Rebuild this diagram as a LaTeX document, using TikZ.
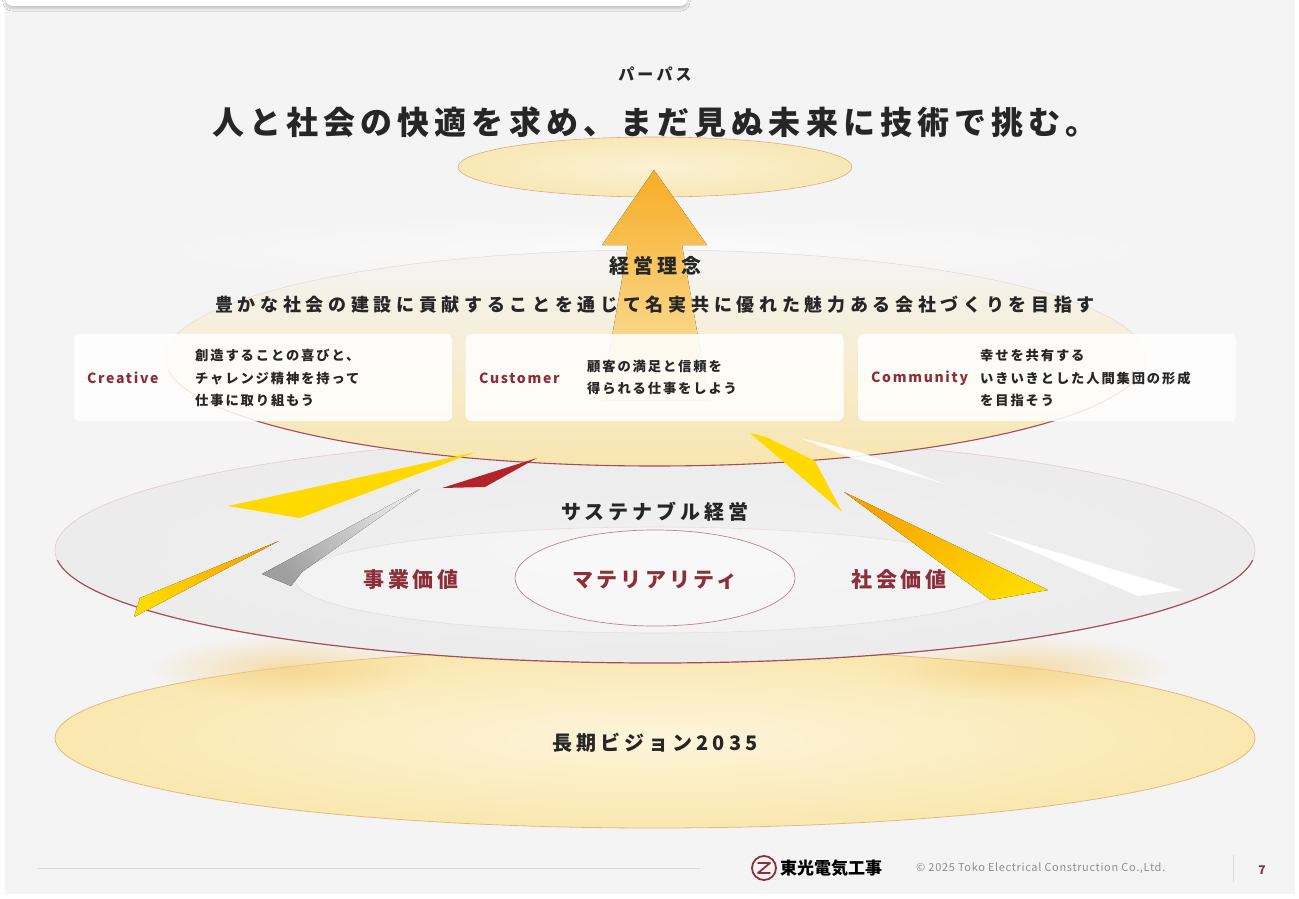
\documentclass[tikz,border=0pt]{standalone}
\usepackage{fontspec}
\setmainfont{Noto Sans CJK JP}
\usetikzlibrary{fadings,shadows.blur}

% palette
\definecolor{pagebg}{HTML}{F4F4F4}
\definecolor{ink}{HTML}{262626}
\definecolor{wine}{HTML}{8C2F3A}
\definecolor{rim}{HTML}{A64E58}
\definecolor{rimsoft}{HTML}{E6CBCB}
\definecolor{visA}{HTML}{FDF4DA}
\definecolor{visB}{HTML}{FAE7AE}
\definecolor{visC}{HTML}{F4D487}
\definecolor{susA}{HTML}{F1F1F1}
\definecolor{susB}{HTML}{EAEAEA}
\definecolor{susC}{HTML}{E1E1E1}
\definecolor{purA}{HTML}{FBF1D4}
\definecolor{purB}{HTML}{F8E6B0}
\definecolor{purC}{HTML}{F2D68C}
\definecolor{arrowTop}{HTML}{F7AD25}
\definecolor{arrowMid}{HTML}{F9C653}
\definecolor{arrowBot}{HTML}{FCE6AE}
\definecolor{gold}{HTML}{FFD900}
\definecolor{amber}{HTML}{F6A300}
\definecolor{crimson}{HTML}{B3232A}
\definecolor{glowC}{HTML}{F5CF80}
\definecolor{footgray}{HTML}{8E8E8E}
\definecolor{hairline}{HTML}{DCDCDC}

% disc shadings
\pgfdeclareradialshading{visdisc}{\pgfpoint{0bp}{0bp}}{color(0bp)=(visA); color(26bp)=(visB); color(50bp)=(visC)}
\pgfdeclareradialshading{susdisc}{\pgfpoint{0bp}{0bp}}{color(0bp)=(susA); color(32bp)=(susB); color(50bp)=(susC)}
\pgfdeclareradialshading{purdisc}{\pgfpoint{0bp}{0bp}}{color(0bp)=(purA); color(30bp)=(purB); color(50bp)=(purC)}

\tikzfading[name=softglow, inner color=transparent!0, outer color=transparent!100]

\newcommand\trk[1]{\addfontfeature{LetterSpace=#1}}

\begin{document}
\begin{tikzpicture}[x=1pt,y=-1pt,
  every node/.style={inner sep=0pt},
  headline/.style={font=\bfseries\fontsize{32}{38}\selectfont\trk{16}, text=ink},
  kicker/.style={font=\bfseries\fontsize{16}{20}\selectfont\trk{20}, text=ink},
  layername/.style={font=\bfseries\fontsize{20}{24}\selectfont\trk{20}, text=ink},
  motto/.style={font=\bfseries\fontsize{18}{22}\selectfont\trk{26}, text=ink},
  valuename/.style={font=\bfseries\fontsize{21}{25}\selectfont\trk{16}, text=wine},
  card/.style={fill=white, fill opacity=0.86, rounded corners=6pt,
    minimum width=378pt, minimum height=87pt},
  cardlabel/.style={anchor=west, font=\bfseries\fontsize{14}{18}\selectfont\trk{12}, text=wine},
  cardtext/.style={anchor=west, align=left, font=\bfseries\fontsize{13.3}{22.5}\selectfont\trk{14}, text=ink},
  hair/.style={draw=hairline, line width=0.8pt},
]
\useasboundingbox (0,0) rectangle (1299,899);
\fill[white] (0,0) rectangle (1299,899);
\fill[pagebg] (5,0) rectangle (1295,894);

% header tab with soft shadow
\path[fill=white, rounded corners=8pt,
  blur shadow={shadow xshift=0pt, shadow yshift=-3pt, shadow blur steps=6, shadow opacity=18}]
  (5,-20) rectangle (688,6);

% ---------- long-term vision disc ----------
\path[shading=visdisc] (655,738) ellipse [x radius=600, y radius=90];
\draw[draw=visC!80!rim, line width=0.8pt] (655,738) ellipse [x radius=600, y radius=90];
\fill[glowC, opacity=0.65, path fading=softglow] (290,668) ellipse [x radius=140, y radius=32];
\fill[glowC, opacity=0.65, path fading=softglow] (1020,668) ellipse [x radius=150, y radius=32];

% ---------- sustainable management disc ----------
\path[shading=susdisc] (655,550) ellipse [x radius=600, y radius=113];
\draw[rimsoft, line width=0.6pt] (655,550) ellipse [x radius=600, y radius=113];
\begin{scope}
  \clip (0,560) rectangle (1299,700);
  \draw[rim, line width=1.2pt] (655,550) ellipse [x radius=600, y radius=113];
\end{scope}
% business / social value field
\fill[white, opacity=0.35] (655,580) ellipse [x radius=360, y radius=53];
\draw[rimsoft!70, line width=0.6pt] (655,580) ellipse [x radius=360, y radius=53];
% materiality
\fill[white, opacity=0.3] (655,578) ellipse [x radius=140, y radius=48];
\draw[rim!70, line width=0.7pt] (655,578) ellipse [x radius=140, y radius=48];

% ---------- management philosophy disc ----------
\fill[white, opacity=0.6, path fading=softglow] (655,250) ellipse [x radius=560, y radius=40];
\path[top color=pagebg, middle color=purA!70!pagebg, bottom color=purB, shading angle=0]
  (655,358) ellipse [x radius=490, y radius=108];
\draw[rimsoft!80, line width=0.5pt] (655,358) ellipse [x radius=490, y radius=108];
\begin{scope}
  \clip (0,370) rectangle (1299,480);
  \draw[rim, line width=1.1pt] (655,358) ellipse [x radius=490, y radius=108];
\end{scope}

% ---------- blades ----------
\fill[gold] (228,506) -- (300,518) -- (476,452) -- cycle;
\fill[crimson] (442,488) -- (485,487) -- (537,458) -- cycle;
\fill[top color=gray!20, bottom color=gray!75, shading angle=-50]
  (262,574) -- (291,586) -- (302,572) -- (420,489) -- cycle;
\fill[top color=amber, bottom color=gold, shading angle=-60]
  (134,617) -- (140,598) -- (279,541) -- cycle;
\fill[gold] (750,433) -- (766,437) -- (815,461) -- (842,512) -- cycle;
\fill[white, opacity=0.9] (800,438) -- (860,452) -- (945,484) -- (852,458) -- cycle;
\fill[top color=amber, bottom color=gold, shading angle=40]
  (844,492) -- (950,543) -- (1048,590) -- (991,600) -- cycle;
\fill[white] (985,531) -- (1183,590) -- (1138,596) -- cycle;

% ---------- purpose disc and upward arrow ----------
\path[shading=purdisc] (655,167) ellipse [x radius=197, y radius=30];
\draw[purC!70!rim, line width=0.6pt] (655,167) ellipse [x radius=197, y radius=30];
\fill[top color=arrowTop, middle color=arrowMid, bottom color=arrowBot]
  (654,170) -- (707,245) -- (682,245) -- (709,400) -- (601,400) -- (628,245) -- (602,245) -- cycle;

% ---------- texts ----------
\node[kicker] (purposeK) at (655,74) {パーパス};
\node[headline] (purpose) at (655,122) {人と社会の快適を求め、まだ見ぬ未来に技術で挑む。};
\node[layername] (philo) at (655,266) {経営理念};
\node[motto] (philoT) at (655,305) {豊かな社会の建設に貢献することを通じて名実共に優れた魅力ある会社づくりを目指す};

% value cards
\node[card] (card1) at (263,377.5) {};
\node[card] (card2) at (654.5,377.5) {};
\node[card] (card3) at (1047,377.5) {};
\node[cardlabel] (lab1) at (87,378) {Creative};
\node[cardtext] (txt1) at (195,378) {創造することの喜びと、\\チャレンジ精神を持って\\仕事に取り組もう};
\node[cardlabel] (lab2) at (479,378) {Customer};
\node[cardtext] (txt2) at (587,377.5) {顧客の満足と信頼を\\得られる仕事をしよう};
\node[cardlabel] (lab3) at (871,378) {Community};
\node[cardtext] (txt3) at (980,378) {幸せを共有する\\いきいきとした人間集団の形成\\を目指そう};

\node[layername] (sus) at (655,512) {サステナブル経営};
\node[valuename] (biz) at (411,580) {事業価値};
\node[valuename] (mat) at (655,580) {マテリアリティ};
\node[valuename] (soc) at (899,580) {社会価値};
\node[layername] (vision) at (655,743) {長期ビジョン2035};

% ---------- footer ----------
\coordinate (ruleL) at (37,868);
\coordinate (ruleR) at (700,868);
\draw[hair] (ruleL) -- (ruleR);
\node[circle, draw=wine, line width=1.8pt, minimum size=24pt] (logo) at (764,868) {};
\draw[wine, line width=1.8pt, line cap=round, line join=round]
  ([shift={(-6,-5)}]logo.center) -- ([shift={(6,-5)}]logo.center)
  -- ([shift={(-6,5)}]logo.center) -- ([shift={(6,5)}]logo.center);
\node[anchor=west, font=\bfseries\fontsize{17}{20}\selectfont, text=black] (brand) at (780,868) {東光電気工事};
\node[anchor=west, font=\fontsize{11}{13}\selectfont\trk{6}, text=footgray] (copy) at (916,868) {© 2025 Toko Electrical Construction Co.,Ltd.};
\coordinate (sepT) at (1233,855);
\coordinate (sepB) at (1233,882);
\draw[hair] (sepT) -- (sepB);
\node[font=\bfseries\fontsize{12}{14}\selectfont, text=wine] (pageno) at (1262,870) {7};
\end{tikzpicture}
\end{document}
